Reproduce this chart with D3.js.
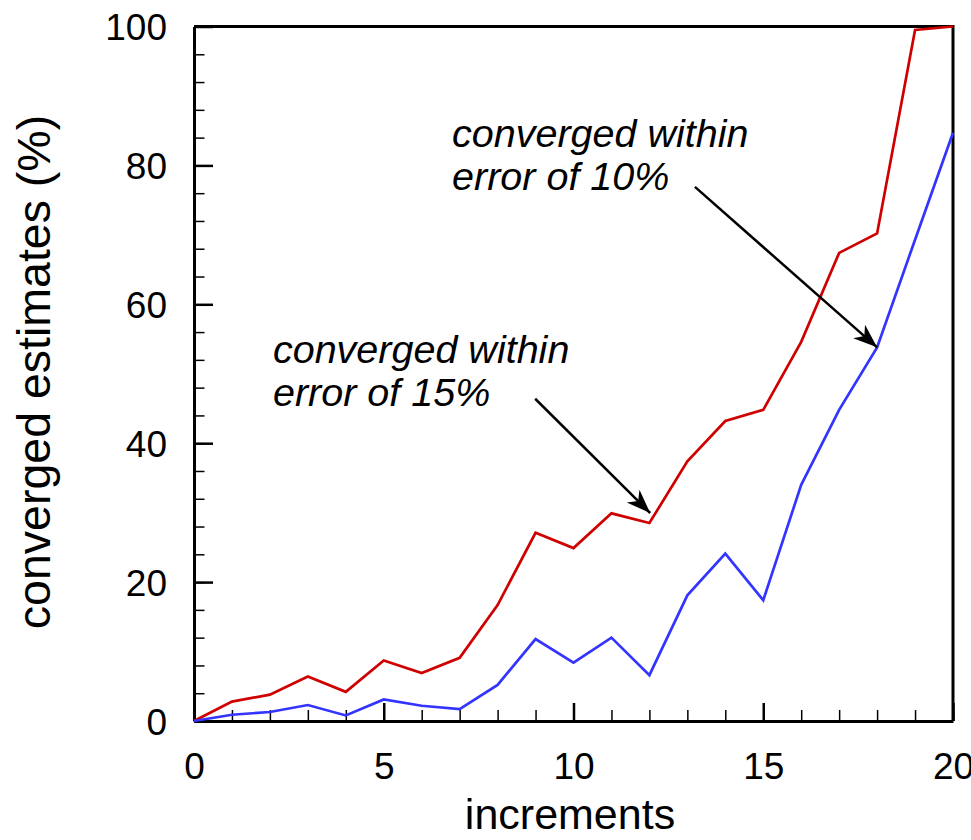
<!DOCTYPE html>
<html>
<head>
<meta charset="utf-8">
<script src="https://cdn.jsdelivr.net/npm/d3@7"></script>
<style>
  body { margin: 0; background: #fff; }
  svg text { font-family: "Liberation Sans", Arial, sans-serif; fill: #000; }
  .axis path, .axis line { stroke: #000; }
</style>
</head>
<body>
<script>
(function(){

//chart data
var increments = d3.range(0, 21);
var within10 = [0, 2.8, 3.8, 6.4, 4.2, 8.7, 6.9, 9.1, 16.7, 27.1, 24.9, 29.9, 28.5, 37.4, 43.2, 44.8, 54.6, 67.4, 70.2, 99.5, 100];
var within15 = [0, 0.9, 1.3, 2.3, 0.8, 3.1, 2.2, 1.7, 5.2, 11.8, 8.4, 12.0, 6.6, 18.1, 24.1, 17.4, 34.0, 44.8, 53.8, 69.3, 84.7];
var yTicks = [0, 20, 40, 60, 80, 100];
var xTicks = [0, 5, 10, 15, 20];

//annotation texts and anchors (data units)
var notes = [
    {lines: ["converged within", "error of 10%"], at: [6.8, 82.6], from: [13.2, 76.9], to: [18, 53.8]},
    {lines: ["converged within", "error of 15%"], at: [2.08, 51.5], from: [8.99, 46.4], to: [12.02, 29.95]}
];

window.onload = drawChart();

function drawChart(){

    var width = 971,
        height = 840;

    var margin = {left: 194, right: 18, top: 26.5, bottom: 119};

    var svg = d3.select("body")
        .append("svg")
        .attr("width", width)
        .attr("height", height);

    var x = d3.scaleLinear()
        .domain([0, 20])
        .range([margin.left, width - margin.right]);

    var y = d3.scaleLinear()
        .domain([0, 100])
        .range([height - margin.bottom, margin.top]);

    //frame top and right
    svg.append("path")
        .attr("d", "M" + x(0) + "," + y(100) + "H" + x(20) + "V" + y(0))
        .attr("fill", "none")
        .attr("stroke", "#000")
        .attr("stroke-width", 3);

    //minor ticks
    svg.append("g")
        .attr("class", "axis")
        .attr("transform", "translate(" + x(0) + ",0)")
        .call(d3.axisLeft(y).tickValues(d3.range(0, 101, 4)).tickSize(-10.5).tickFormat(""))
        .call(function(g){ g.select(".domain").remove(); })
        .selectAll("line").attr("stroke-width", 1.5);

    svg.append("g")
        .attr("class", "axis")
        .attr("transform", "translate(0," + y(0) + ")")
        .call(d3.axisBottom(x).tickValues(increments).tickSize(-11).tickFormat(""))
        .call(function(g){ g.select(".domain").remove(); })
        .selectAll("line").attr("stroke-width", 1.5);

    //major axes
    var yAxis = svg.append("g")
        .attr("class", "axis")
        .attr("transform", "translate(" + x(0) + ",0)")
        .call(d3.axisLeft(y).tickValues(yTicks).tickSizeInner(-19).tickSizeOuter(0).tickPadding(27));
    yAxis.select(".domain").attr("stroke-width", 3);
    yAxis.selectAll(".tick line").attr("stroke-width", 2.5);
    yAxis.selectAll(".tick text").attr("font-size", 37).attr("dy", "0.36em");

    var xAxis = svg.append("g")
        .attr("class", "axis")
        .attr("transform", "translate(0," + y(0) + ")")
        .call(d3.axisBottom(x).tickValues(xTicks).tickSizeInner(-18).tickSizeOuter(0).tickPadding(32));
    xAxis.select(".domain").attr("stroke-width", 3);
    xAxis.selectAll(".tick line").attr("stroke-width", 2.5);
    xAxis.selectAll(".tick text").attr("font-size", 37);

    //axis titles
    svg.append("text")
        .attr("transform", "translate(50,372) rotate(-90)")
        .attr("text-anchor", "middle")
        .attr("font-size", 46.5)
        .text("converged estimates (%)");

    svg.append("text")
        .attr("x", 570)
        .attr("y", 829)
        .attr("text-anchor", "middle")
        .attr("font-size", 43)
        .text("increments");

    //series lines
    var line = d3.line()
        .x(function(d, i){ return x(increments[i]); })
        .y(function(d){ return y(d); });

    svg.append("path")
        .datum(within10)
        .attr("fill", "none")
        .attr("stroke", "#cf0000")
        .attr("stroke-width", 2.7)
        .attr("d", line);

    svg.append("path")
        .datum(within15)
        .attr("fill", "none")
        .attr("stroke", "#3434ff")
        .attr("stroke-width", 2.7)
        .attr("d", line);

    //arrow head
    svg.append("defs").append("marker")
        .attr("id", "head")
        .attr("markerUnits", "userSpaceOnUse")
        .attr("viewBox", "-24 -10 26 20")
        .attr("refX", 0)
        .attr("refY", 0)
        .attr("markerWidth", 26)
        .attr("markerHeight", 20)
        .attr("orient", "auto")
        .append("path")
        .attr("d", "M0,0 L-24,-9 L-17,0 L-24,9 Z")
        .attr("fill", "#000");

    //annotations
    notes.forEach(function(n){
        var t = svg.append("text")
            .attr("font-size", 39.5)
            .attr("font-style", "italic");
        n.lines.forEach(function(s, i){
            t.append("tspan")
                .attr("x", x(n.at[0]))
                .attr("y", y(n.at[1]) + i * 43)
                .text(s);
        });
        svg.append("line")
            .attr("x1", x(n.from[0]))
            .attr("y1", y(n.from[1]))
            .attr("x2", x(n.to[0]))
            .attr("y2", y(n.to[1]))
            .attr("stroke", "#000")
            .attr("stroke-width", 2.5)
            .attr("marker-end", "url(#head)");
    });
};

})();
</script>
</body>
</html>
